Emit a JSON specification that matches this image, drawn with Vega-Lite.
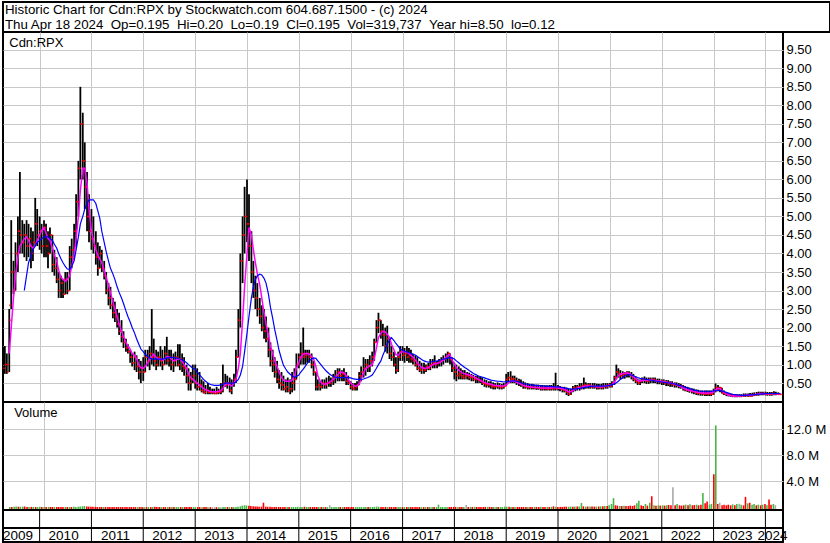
{
"$schema":"https://vega.github.io/schema/vega-lite/v6.json",
"padding":{"left":1,"top":1,"right":0,"bottom":0},
"background":"white",
"bounds":"flush",
"spacing":0,
"config":{"font":"Liberation Sans","view":{"stroke":"black","strokeWidth":2},"text":{"font":"Liberation Sans","fontSize":13,"color":"black"},"axis":{"labelFont":"Liberation Sans","labelFontSize":13,"labelColor":"black","gridColor":"#c8c8c8","gridWidth":1,"gridOpacity":1,"domain":false,"ticks":false,"title":null,"labelOverlap":false,"labelBound":false}},
"resolve":{"scale":{"x":"independent","y":"independent"}},
"datasets":{
"yb":[{"d":"2010-01-01","t":"2010"},{"d":"2011-01-01","t":"2011"},{"d":"2012-01-01","t":"2012"},{"d":"2013-01-01","t":"2013"},{"d":"2014-01-01","t":"2014"},{"d":"2015-01-01","t":"2015"},{"d":"2016-01-01","t":"2016"},{"d":"2017-01-01","t":"2017"},{"d":"2018-01-01","t":"2018"},{"d":"2019-01-01","t":"2019"},{"d":"2020-01-01","t":"2020"},{"d":"2021-01-01","t":"2021"},{"d":"2022-01-01","t":"2022"},{"d":"2023-01-01","t":"2023"},{"d":"2024-01-01","t":"2024"}],
"p":[
{"d":"2009-05-01","o":0.9,"h":1.5,"l":0.75,"c":1.0,"m":null,"a":null,"v":0.05},
{"d":"2009-05-15","o":1.0,"h":1.3,"l":0.75,"c":0.8,"m":null,"a":null,"v":0.04},
{"d":"2009-06-01","o":1.0,"h":2.5,"l":0.8,"c":2.2,"m":1.3,"a":null,"v":0.08},
{"d":"2009-06-15","o":2.6,"h":4.9,"l":2.5,"c":3.5,"m":2.0,"a":null,"v":0.12},
{"d":"2009-07-01","o":3.5,"h":3.8,"l":2.9,"c":3.0,"m":2.8,"a":null,"v":0.07},
{"d":"2009-07-15","o":3.0,"h":4.3,"l":3.0,"c":4.0,"m":3.4,"a":null,"v":0.08},
{"d":"2009-08-01","o":4.0,"h":5.0,"l":3.5,"c":4.6,"m":3.9,"a":null,"v":0.1},
{"d":"2009-08-15","o":4.6,"h":6.2,"l":4.0,"c":4.5,"m":4.2,"a":null,"v":0.12},
{"d":"2009-09-01","o":4.5,"h":4.9,"l":4.0,"c":4.3,"m":4.3,"a":null,"v":0.06},
{"d":"2009-09-15","o":4.3,"h":4.8,"l":3.9,"c":4.5,"m":4.4,"a":3.0,"v":0.05},
{"d":"2009-10-01","o":4.5,"h":4.9,"l":3.8,"c":4.2,"m":4.45,"a":3.4,"v":0.06},
{"d":"2009-10-15","o":4.2,"h":4.8,"l":3.9,"c":4.4,"m":4.35,"a":3.75,"v":0.05},
{"d":"2009-11-01","o":4.4,"h":4.7,"l":3.6,"c":4.0,"m":4.2,"a":3.95,"v":0.05},
{"d":"2009-11-15","o":4.0,"h":4.6,"l":3.8,"c":4.3,"m":4.15,"a":4.1,"v":0.04},
{"d":"2009-12-01","o":4.3,"h":5.5,"l":4.2,"c":4.8,"m":4.2,"a":4.2,"v":0.08},
{"d":"2009-12-15","o":4.8,"h":5.2,"l":4.2,"c":4.5,"m":4.35,"a":4.3,"v":0.05},
{"d":"2010-01-01","o":4.5,"h":5.0,"l":4.1,"c":4.6,"m":4.5,"a":4.35,"v":0.06},
{"d":"2010-01-15","o":4.6,"h":4.8,"l":4.0,"c":4.2,"m":4.62,"a":4.4,"v":0.05},
{"d":"2010-02-01","o":4.2,"h":4.9,"l":3.9,"c":4.7,"m":4.7,"a":4.45,"v":0.06},
{"d":"2010-02-15","o":4.7,"h":4.8,"l":3.9,"c":4.2,"m":4.55,"a":4.45,"v":0.05},
{"d":"2010-03-01","o":4.2,"h":4.6,"l":3.6,"c":4.0,"m":4.4,"a":4.45,"v":0.05},
{"d":"2010-03-15","o":4.0,"h":4.7,"l":4.0,"c":4.5,"m":4.35,"a":4.4,"v":0.04},
{"d":"2010-04-01","o":4.5,"h":4.5,"l":3.5,"c":3.7,"m":4.15,"a":4.35,"v":0.05},
{"d":"2010-04-15","o":3.7,"h":4.1,"l":3.4,"c":3.6,"m":3.95,"a":4.25,"v":0.04},
{"d":"2010-05-01","o":3.6,"h":3.9,"l":3.2,"c":3.3,"m":3.8,"a":4.15,"v":0.05},
{"d":"2010-05-15","o":3.3,"h":3.5,"l":2.8,"c":3.0,"m":3.55,"a":4.0,"v":0.06},
{"d":"2010-06-01","o":3.0,"h":3.4,"l":2.8,"c":3.2,"m":3.35,"a":3.85,"v":0.04},
{"d":"2010-06-15","o":3.2,"h":3.3,"l":2.8,"c":2.9,"m":3.3,"a":3.75,"v":0.04},
{"d":"2010-07-01","o":2.9,"h":3.5,"l":2.9,"c":3.3,"m":3.25,"a":3.65,"v":0.05},
{"d":"2010-07-15","o":3.3,"h":3.5,"l":2.9,"c":3.0,"m":3.3,"a":3.58,"v":0.04},
{"d":"2010-08-01","o":3.0,"h":4.2,"l":3.0,"c":3.9,"m":3.4,"a":3.57,"v":0.07},
{"d":"2010-08-15","o":3.9,"h":4.4,"l":3.6,"c":4.1,"m":3.65,"a":3.65,"v":0.06},
{"d":"2010-09-01","o":4.1,"h":4.8,"l":3.9,"c":4.6,"m":3.95,"a":3.8,"v":0.08},
{"d":"2010-09-15","o":4.6,"h":5.6,"l":4.2,"c":5.4,"m":4.4,"a":4.1,"v":0.1},
{"d":"2010-10-01","o":5.4,"h":6.5,"l":5.0,"c":6.3,"m":5.0,"a":4.45,"v":0.14},
{"d":"2010-10-15","o":6.3,"h":8.5,"l":6.0,"c":7.5,"m":5.7,"a":4.8,"v":0.2},
{"d":"2010-11-01","o":7.5,"h":7.8,"l":6.0,"c":6.5,"m":6.3,"a":5.0,"v":0.12},
{"d":"2010-11-15","o":6.5,"h":7.0,"l":5.2,"c":5.8,"m":6.3,"a":5.2,"v":0.1},
{"d":"2010-12-01","o":5.8,"h":6.2,"l":4.6,"c":5.0,"m":5.9,"a":5.35,"v":0.08},
{"d":"2010-12-15","o":5.0,"h":5.6,"l":4.3,"c":4.6,"m":5.2,"a":5.45,"v":0.07},
{"d":"2011-01-01","o":4.6,"h":5.2,"l":4.1,"c":4.4,"m":4.6,"a":5.45,"v":0.06},
{"d":"2011-01-15","o":4.4,"h":5.0,"l":4.0,"c":4.2,"m":4.35,"a":5.45,"v":0.05},
{"d":"2011-02-01","o":4.2,"h":4.6,"l":3.7,"c":3.9,"m":4.1,"a":5.35,"v":0.05},
{"d":"2011-02-15","o":3.9,"h":4.3,"l":3.4,"c":3.6,"m":3.95,"a":5.15,"v":0.05},
{"d":"2011-03-01","o":3.6,"h":4.2,"l":3.6,"c":4.0,"m":3.85,"a":4.95,"v":0.04},
{"d":"2011-03-15","o":4.0,"h":4.1,"l":3.5,"c":3.6,"m":3.75,"a":4.6,"v":0.04},
{"d":"2011-04-01","o":3.6,"h":3.8,"l":3.3,"c":3.4,"m":3.55,"a":4.3,"v":0.04},
{"d":"2011-04-15","o":3.4,"h":3.5,"l":2.9,"c":3.0,"m":3.35,"a":4.05,"v":0.05},
{"d":"2011-05-01","o":3.0,"h":3.2,"l":2.6,"c":2.8,"m":3.15,"a":3.8,"v":0.05},
{"d":"2011-05-15","o":2.8,"h":3.1,"l":2.5,"c":2.6,"m":2.95,"a":3.6,"v":0.04},
{"d":"2011-06-01","o":2.6,"h":2.8,"l":2.25,"c":2.4,"m":2.7,"a":3.45,"v":0.04},
{"d":"2011-06-15","o":2.4,"h":2.7,"l":2.15,"c":2.3,"m":2.5,"a":3.3,"v":0.04},
{"d":"2011-07-01","o":2.3,"h":2.5,"l":2.0,"c":2.1,"m":2.3,"a":3.1,"v":0.03},
{"d":"2011-07-15","o":2.1,"h":2.4,"l":1.8,"c":1.9,"m":2.1,"a":2.95,"v":0.04},
{"d":"2011-08-01","o":1.9,"h":2.2,"l":1.6,"c":1.75,"m":1.9,"a":2.8,"v":0.04},
{"d":"2011-08-15","o":1.75,"h":1.9,"l":1.45,"c":1.6,"m":1.75,"a":2.65,"v":0.03},
{"d":"2011-09-01","o":1.6,"h":1.7,"l":1.35,"c":1.45,"m":1.6,"a":2.45,"v":0.03},
{"d":"2011-09-15","o":1.45,"h":1.55,"l":1.3,"c":1.35,"m":1.5,"a":2.3,"v":0.03},
{"d":"2011-10-01","o":1.35,"h":1.4,"l":1.05,"c":1.2,"m":1.42,"a":2.15,"v":0.04},
{"d":"2011-10-15","o":1.2,"h":1.3,"l":0.95,"c":1.05,"m":1.3,"a":2.0,"v":0.03},
{"d":"2011-11-01","o":1.05,"h":1.35,"l":0.85,"c":1.2,"m":1.25,"a":1.85,"v":0.04},
{"d":"2011-11-15","o":1.2,"h":1.25,"l":0.8,"c":0.95,"m":1.15,"a":1.7,"v":0.03},
{"d":"2011-12-01","o":0.95,"h":1.15,"l":0.6,"c":0.8,"m":1.0,"a":1.55,"v":0.04},
{"d":"2011-12-15","o":0.8,"h":1.1,"l":0.5,"c":0.9,"m":0.92,"a":1.42,"v":0.04},
{"d":"2012-01-01","o":0.9,"h":1.2,"l":0.56,"c":0.8,"m":0.9,"a":1.35,"v":0.03},
{"d":"2012-01-15","o":0.8,"h":1.4,"l":0.8,"c":1.2,"m":0.95,"a":1.28,"v":0.04},
{"d":"2012-02-01","o":1.2,"h":1.4,"l":0.95,"c":1.1,"m":1.05,"a":1.22,"v":0.03},
{"d":"2012-02-15","o":1.1,"h":1.5,"l":0.85,"c":1.3,"m":1.15,"a":1.18,"v":0.04},
{"d":"2012-03-01","o":1.3,"h":2.5,"l":1.0,"c":1.2,"m":1.22,"a":1.15,"v":0.08},
{"d":"2012-03-15","o":1.2,"h":1.7,"l":0.95,"c":1.1,"m":1.28,"a":1.15,"v":0.04},
{"d":"2012-04-01","o":1.1,"h":1.4,"l":0.85,"c":1.0,"m":1.2,"a":1.15,"v":0.03},
{"d":"2012-04-15","o":1.0,"h":1.35,"l":0.95,"c":1.2,"m":1.15,"a":1.15,"v":0.03},
{"d":"2012-05-01","o":1.2,"h":1.5,"l":0.95,"c":1.1,"m":1.15,"a":1.15,"v":0.03},
{"d":"2012-05-15","o":1.1,"h":1.4,"l":0.85,"c":1.0,"m":1.12,"a":1.15,"v":0.03},
{"d":"2012-06-01","o":1.0,"h":1.5,"l":1.0,"c":1.3,"m":1.15,"a":1.16,"v":0.04},
{"d":"2012-06-15","o":1.3,"h":1.75,"l":1.0,"c":1.1,"m":1.22,"a":1.18,"v":0.05},
{"d":"2012-07-01","o":1.1,"h":1.4,"l":0.95,"c":1.2,"m":1.2,"a":1.19,"v":0.03},
{"d":"2012-07-15","o":1.2,"h":1.4,"l":0.85,"c":1.0,"m":1.15,"a":1.2,"v":0.03},
{"d":"2012-08-01","o":1.0,"h":1.3,"l":0.8,"c":1.1,"m":1.1,"a":1.19,"v":0.03},
{"d":"2012-08-15","o":1.1,"h":1.35,"l":0.95,"c":1.2,"m":1.12,"a":1.18,"v":0.03},
{"d":"2012-09-01","o":1.2,"h":1.55,"l":0.95,"c":1.0,"m":1.15,"a":1.17,"v":0.04},
{"d":"2012-09-15","o":1.0,"h":1.55,"l":0.85,"c":1.15,"m":1.15,"a":1.15,"v":0.04},
{"d":"2012-10-01","o":1.15,"h":1.3,"l":0.8,"c":0.95,"m":1.08,"a":1.13,"v":0.03},
{"d":"2012-10-15","o":0.95,"h":1.2,"l":0.7,"c":0.9,"m":1.0,"a":1.1,"v":0.03},
{"d":"2012-11-01","o":0.9,"h":1.0,"l":0.5,"c":0.7,"m":0.9,"a":1.05,"v":0.04},
{"d":"2012-11-15","o":0.7,"h":0.9,"l":0.3,"c":0.5,"m":0.75,"a":1.0,"v":0.04},
{"d":"2012-12-01","o":0.5,"h":0.8,"l":0.3,"c":0.6,"m":0.65,"a":0.95,"v":0.03},
{"d":"2012-12-15","o":0.6,"h":1.0,"l":0.5,"c":0.7,"m":0.6,"a":0.9,"v":0.03},
{"d":"2013-01-01","o":0.7,"h":1.0,"l":0.35,"c":0.5,"m":0.55,"a":0.88,"v":0.03},
{"d":"2013-01-15","o":0.5,"h":0.9,"l":0.3,"c":0.4,"m":0.5,"a":0.8,"v":0.03},
{"d":"2013-02-01","o":0.4,"h":0.8,"l":0.3,"c":0.45,"m":0.45,"a":0.72,"v":0.02},
{"d":"2013-02-15","o":0.45,"h":0.6,"l":0.25,"c":0.3,"m":0.4,"a":0.66,"v":0.03},
{"d":"2013-03-01","o":0.3,"h":0.55,"l":0.22,"c":0.25,"m":0.36,"a":0.6,"v":0.03},
{"d":"2013-03-15","o":0.25,"h":0.45,"l":0.2,"c":0.3,"m":0.32,"a":0.55,"v":0.02},
{"d":"2013-04-01","o":0.3,"h":0.5,"l":0.2,"c":0.25,"m":0.3,"a":0.5,"v":0.02},
{"d":"2013-04-15","o":0.25,"h":0.4,"l":0.2,"c":0.25,"m":0.28,"a":0.47,"v":0.02},
{"d":"2013-05-01","o":0.25,"h":0.35,"l":0.2,"c":0.25,"m":0.27,"a":0.45,"v":0.02},
{"d":"2013-05-15","o":0.25,"h":0.35,"l":0.2,"c":0.22,"m":0.27,"a":0.44,"v":0.02},
{"d":"2013-06-01","o":0.22,"h":0.4,"l":0.2,"c":0.25,"m":0.27,"a":0.44,"v":0.02},
{"d":"2013-06-15","o":0.25,"h":0.35,"l":0.2,"c":0.25,"m":0.28,"a":0.44,"v":0.02},
{"d":"2013-07-01","o":0.25,"h":0.5,"l":0.2,"c":0.3,"m":0.3,"a":0.45,"v":0.03},
{"d":"2013-07-15","o":0.3,"h":1.0,"l":0.25,"c":0.5,"m":0.36,"a":0.47,"v":0.06},
{"d":"2013-08-01","o":0.5,"h":0.75,"l":0.4,"c":0.45,"m":0.45,"a":0.5,"v":0.03},
{"d":"2013-08-15","o":0.45,"h":0.7,"l":0.35,"c":0.5,"m":0.5,"a":0.5,"v":0.03},
{"d":"2013-09-01","o":0.5,"h":0.65,"l":0.25,"c":0.3,"m":0.45,"a":0.5,"v":0.03},
{"d":"2013-09-15","o":0.3,"h":0.6,"l":0.2,"c":0.5,"m":0.42,"a":0.5,"v":0.03},
{"d":"2013-10-01","o":0.5,"h":0.75,"l":0.4,"c":0.6,"m":0.5,"a":0.5,"v":0.04},
{"d":"2013-10-15","o":0.6,"h":1.4,"l":0.5,"c":1.2,"m":0.6,"a":0.53,"v":0.08},
{"d":"2013-11-01","o":1.2,"h":2.5,"l":1.2,"c":2.2,"m":0.9,"a":0.6,"v":0.15},
{"d":"2013-11-15","o":2.2,"h":4.0,"l":2.0,"c":3.8,"m":1.3,"a":0.72,"v":0.25},
{"d":"2013-12-01","o":3.8,"h":5.0,"l":3.2,"c":4.5,"m":2.2,"a":0.95,"v":0.3},
{"d":"2013-12-15","o":4.5,"h":5.8,"l":4.0,"c":5.0,"m":3.1,"a":1.35,"v":0.28},
{"d":"2014-01-01","o":5.0,"h":6.0,"l":4.3,"c":4.8,"m":4.0,"a":1.85,"v":0.25},
{"d":"2014-01-15","o":4.8,"h":5.6,"l":3.8,"c":4.2,"m":4.7,"a":2.3,"v":0.2},
{"d":"2014-02-01","o":4.2,"h":4.6,"l":3.2,"c":3.5,"m":4.5,"a":2.8,"v":0.15},
{"d":"2014-02-15","o":3.5,"h":3.8,"l":2.8,"c":3.0,"m":4.1,"a":3.1,"v":0.12},
{"d":"2014-03-01","o":3.0,"h":3.4,"l":2.5,"c":2.8,"m":3.75,"a":3.3,"v":0.1},
{"d":"2014-03-15","o":2.8,"h":3.2,"l":2.3,"c":2.5,"m":3.45,"a":3.4,"v":0.08},
{"d":"2014-04-01","o":2.5,"h":2.8,"l":2.1,"c":2.3,"m":3.15,"a":3.44,"v":0.1},
{"d":"2014-04-15","o":2.3,"h":2.6,"l":1.9,"c":2.0,"m":2.8,"a":3.42,"v":0.7},
{"d":"2014-05-01","o":2.0,"h":2.5,"l":1.7,"c":1.9,"m":2.4,"a":3.33,"v":0.1},
{"d":"2014-05-15","o":1.9,"h":2.3,"l":1.6,"c":1.7,"m":2.1,"a":3.2,"v":0.08},
{"d":"2014-06-01","o":1.7,"h":2.0,"l":1.2,"c":1.4,"m":1.8,"a":2.9,"v":0.07},
{"d":"2014-06-15","o":1.4,"h":1.6,"l":0.95,"c":1.1,"m":1.5,"a":2.55,"v":0.06},
{"d":"2014-07-01","o":1.1,"h":1.4,"l":0.8,"c":1.0,"m":1.3,"a":2.25,"v":0.05},
{"d":"2014-07-15","o":1.0,"h":1.2,"l":0.65,"c":0.8,"m":1.1,"a":1.95,"v":0.05},
{"d":"2014-08-01","o":0.8,"h":1.1,"l":0.5,"c":0.6,"m":0.95,"a":1.65,"v":0.05},
{"d":"2014-08-15","o":0.6,"h":0.85,"l":0.35,"c":0.5,"m":0.8,"a":1.38,"v":0.04},
{"d":"2014-09-01","o":0.5,"h":0.8,"l":0.3,"c":0.45,"m":0.65,"a":1.15,"v":0.04},
{"d":"2014-09-15","o":0.45,"h":0.7,"l":0.3,"c":0.35,"m":0.58,"a":0.98,"v":0.03},
{"d":"2014-10-01","o":0.35,"h":0.6,"l":0.25,"c":0.4,"m":0.55,"a":0.88,"v":0.03},
{"d":"2014-10-15","o":0.4,"h":0.65,"l":0.25,"c":0.3,"m":0.55,"a":0.8,"v":0.03},
{"d":"2014-11-01","o":0.3,"h":0.6,"l":0.2,"c":0.35,"m":0.55,"a":0.74,"v":0.03},
{"d":"2014-11-15","o":0.35,"h":0.8,"l":0.25,"c":0.5,"m":0.58,"a":0.7,"v":0.04},
{"d":"2014-12-01","o":0.5,"h":0.9,"l":0.3,"c":0.6,"m":0.7,"a":0.66,"v":0.04},
{"d":"2014-12-15","o":0.6,"h":1.3,"l":0.6,"c":1.0,"m":0.9,"a":0.68,"v":0.06},
{"d":"2015-01-01","o":1.0,"h":1.3,"l":0.9,"c":1.2,"m":1.05,"a":0.72,"v":0.05},
{"d":"2015-01-15","o":1.2,"h":1.6,"l":1.0,"c":1.3,"m":1.2,"a":0.8,"v":0.05},
{"d":"2015-02-01","o":1.3,"h":2.0,"l":1.0,"c":1.2,"m":1.28,"a":0.88,"v":0.08},
{"d":"2015-02-15","o":1.2,"h":1.4,"l":1.0,"c":1.25,"m":1.3,"a":0.95,"v":0.04},
{"d":"2015-03-01","o":1.25,"h":1.4,"l":1.05,"c":1.3,"m":1.3,"a":1.03,"v":0.04},
{"d":"2015-03-15","o":1.3,"h":1.4,"l":1.05,"c":1.2,"m":1.28,"a":1.1,"v":0.04},
{"d":"2015-04-01","o":1.2,"h":1.3,"l":0.9,"c":1.0,"m":1.22,"a":1.15,"v":0.04},
{"d":"2015-04-15","o":1.0,"h":1.1,"l":0.7,"c":0.8,"m":1.15,"a":1.18,"v":0.04},
{"d":"2015-05-01","o":0.8,"h":0.8,"l":0.3,"c":0.4,"m":0.95,"a":1.17,"v":0.06},
{"d":"2015-05-15","o":0.4,"h":0.6,"l":0.3,"c":0.45,"m":0.7,"a":1.1,"v":0.04},
{"d":"2015-06-01","o":0.45,"h":0.55,"l":0.3,"c":0.4,"m":0.55,"a":1.02,"v":0.03},
{"d":"2015-06-15","o":0.4,"h":0.6,"l":0.35,"c":0.5,"m":0.48,"a":0.95,"v":0.03},
{"d":"2015-07-01","o":0.5,"h":0.6,"l":0.35,"c":0.45,"m":0.47,"a":0.88,"v":0.03},
{"d":"2015-07-15","o":0.45,"h":0.65,"l":0.35,"c":0.5,"m":0.48,"a":0.82,"v":0.03},
{"d":"2015-08-01","o":0.5,"h":0.7,"l":0.4,"c":0.5,"m":0.52,"a":0.76,"v":0.3},
{"d":"2015-08-15","o":0.5,"h":0.65,"l":0.4,"c":0.55,"m":0.55,"a":0.72,"v":0.04},
{"d":"2015-09-01","o":0.55,"h":0.75,"l":0.45,"c":0.65,"m":0.6,"a":0.68,"v":0.04},
{"d":"2015-09-15","o":0.65,"h":0.85,"l":0.5,"c":0.7,"m":0.65,"a":0.66,"v":0.05},
{"d":"2015-10-01","o":0.7,"h":0.9,"l":0.55,"c":0.8,"m":0.72,"a":0.65,"v":0.05},
{"d":"2015-10-15","o":0.8,"h":0.9,"l":0.55,"c":0.7,"m":0.78,"a":0.65,"v":0.04},
{"d":"2015-11-01","o":0.7,"h":0.85,"l":0.55,"c":0.75,"m":0.8,"a":0.65,"v":0.04},
{"d":"2015-11-15","o":0.75,"h":0.9,"l":0.55,"c":0.65,"m":0.78,"a":0.65,"v":0.04},
{"d":"2015-12-01","o":0.65,"h":0.8,"l":0.45,"c":0.55,"m":0.7,"a":0.65,"v":0.03},
{"d":"2015-12-15","o":0.55,"h":0.7,"l":0.45,"c":0.5,"m":0.6,"a":0.65,"v":0.03},
{"d":"2016-01-01","o":0.5,"h":0.55,"l":0.33,"c":0.4,"m":0.5,"a":0.64,"v":0.03},
{"d":"2016-01-15","o":0.4,"h":0.5,"l":0.3,"c":0.35,"m":0.45,"a":0.62,"v":0.03},
{"d":"2016-02-01","o":0.35,"h":0.5,"l":0.3,"c":0.4,"m":0.42,"a":0.61,"v":0.03},
{"d":"2016-02-15","o":0.4,"h":0.55,"l":0.3,"c":0.45,"m":0.42,"a":0.6,"v":0.03},
{"d":"2016-03-01","o":0.45,"h":0.8,"l":0.45,"c":0.7,"m":0.48,"a":0.6,"v":0.05},
{"d":"2016-03-15","o":0.7,"h":0.95,"l":0.55,"c":0.8,"m":0.6,"a":0.6,"v":0.05},
{"d":"2016-04-01","o":0.8,"h":1.2,"l":0.65,"c":0.9,"m":0.78,"a":0.61,"v":0.06},
{"d":"2016-04-15","o":0.9,"h":1.15,"l":0.7,"c":1.0,"m":0.88,"a":0.63,"v":0.05},
{"d":"2016-05-01","o":1.0,"h":1.15,"l":0.8,"c":0.95,"m":0.93,"a":0.65,"v":0.04},
{"d":"2016-05-15","o":0.95,"h":1.25,"l":0.8,"c":1.1,"m":0.97,"a":0.68,"v":0.05},
{"d":"2016-06-01","o":1.1,"h":1.35,"l":0.95,"c":1.2,"m":1.0,"a":0.72,"v":0.05},
{"d":"2016-06-15","o":1.2,"h":1.7,"l":1.1,"c":1.6,"m":1.15,"a":0.8,"v":0.07},
{"d":"2016-07-01","o":1.6,"h":2.2,"l":1.6,"c":2.0,"m":1.45,"a":0.9,"v":0.1},
{"d":"2016-07-15","o":2.0,"h":2.4,"l":1.85,"c":2.2,"m":1.73,"a":1.0,"v":0.08},
{"d":"2016-08-01","o":2.2,"h":2.2,"l":1.7,"c":1.9,"m":1.85,"a":1.1,"v":0.06},
{"d":"2016-08-15","o":1.9,"h":2.1,"l":1.5,"c":1.8,"m":1.9,"a":1.25,"v":0.05},
{"d":"2016-09-01","o":1.8,"h":2.0,"l":1.35,"c":1.5,"m":1.88,"a":1.4,"v":0.05},
{"d":"2016-09-15","o":1.5,"h":2.05,"l":1.3,"c":1.7,"m":1.82,"a":1.55,"v":0.05},
{"d":"2016-10-01","o":1.7,"h":1.75,"l":1.15,"c":1.3,"m":1.73,"a":1.67,"v":0.05},
{"d":"2016-10-15","o":1.3,"h":1.5,"l":1.1,"c":1.2,"m":1.55,"a":1.73,"v":0.04},
{"d":"2016-11-01","o":1.2,"h":1.35,"l":0.95,"c":1.0,"m":1.4,"a":1.65,"v":0.04},
{"d":"2016-11-15","o":1.0,"h":1.2,"l":0.75,"c":0.85,"m":1.27,"a":1.57,"v":0.05},
{"d":"2016-12-01","o":0.85,"h":1.35,"l":0.8,"c":1.2,"m":1.25,"a":1.5,"v":0.05},
{"d":"2016-12-15","o":1.2,"h":1.5,"l":1.1,"c":1.35,"m":1.32,"a":1.42,"v":0.05},
{"d":"2017-01-01","o":1.35,"h":1.5,"l":1.1,"c":1.25,"m":1.35,"a":1.38,"v":0.04},
{"d":"2017-01-15","o":1.25,"h":1.45,"l":1.05,"c":1.3,"m":1.35,"a":1.36,"v":0.04},
{"d":"2017-02-01","o":1.3,"h":1.5,"l":1.1,"c":1.2,"m":1.33,"a":1.34,"v":0.04},
{"d":"2017-02-15","o":1.2,"h":1.45,"l":1.05,"c":1.25,"m":1.3,"a":1.32,"v":0.04},
{"d":"2017-03-01","o":1.25,"h":1.4,"l":1.05,"c":1.15,"m":1.25,"a":1.3,"v":0.03},
{"d":"2017-03-15","o":1.15,"h":1.3,"l":1.0,"c":1.1,"m":1.2,"a":1.28,"v":0.03},
{"d":"2017-04-01","o":1.1,"h":1.25,"l":0.95,"c":1.0,"m":1.12,"a":1.26,"v":0.03},
{"d":"2017-04-15","o":1.0,"h":1.2,"l":0.85,"c":0.9,"m":1.05,"a":1.22,"v":0.04},
{"d":"2017-05-01","o":0.9,"h":1.1,"l":0.8,"c":0.85,"m":0.98,"a":1.18,"v":0.03},
{"d":"2017-05-15","o":0.85,"h":1.05,"l":0.75,"c":0.9,"m":0.92,"a":1.14,"v":0.03},
{"d":"2017-06-01","o":0.9,"h":1.05,"l":0.75,"c":0.85,"m":0.9,"a":1.1,"v":0.03},
{"d":"2017-06-15","o":0.85,"h":1.0,"l":0.8,"c":0.95,"m":0.9,"a":1.08,"v":0.03},
{"d":"2017-07-01","o":0.95,"h":1.05,"l":0.85,"c":0.9,"m":0.92,"a":1.07,"v":0.03},
{"d":"2017-07-15","o":0.9,"h":1.15,"l":0.85,"c":1.0,"m":0.95,"a":1.07,"v":0.04},
{"d":"2017-08-01","o":1.0,"h":1.15,"l":0.9,"c":1.05,"m":1.0,"a":1.08,"v":0.04},
{"d":"2017-08-15","o":1.05,"h":1.25,"l":0.9,"c":1.0,"m":1.02,"a":1.09,"v":0.05},
{"d":"2017-09-01","o":1.0,"h":1.1,"l":0.9,"c":1.05,"m":1.03,"a":1.1,"v":0.04},
{"d":"2017-09-15","o":1.05,"h":1.15,"l":0.95,"c":1.1,"m":1.05,"a":1.11,"v":0.4},
{"d":"2017-10-01","o":1.1,"h":1.2,"l":0.95,"c":1.12,"m":1.08,"a":1.13,"v":0.05},
{"d":"2017-10-15","o":1.12,"h":1.25,"l":1.0,"c":1.15,"m":1.12,"a":1.15,"v":0.05},
{"d":"2017-11-01","o":1.15,"h":1.3,"l":1.05,"c":1.2,"m":1.18,"a":1.16,"v":0.05},
{"d":"2017-11-15","o":1.2,"h":1.35,"l":1.05,"c":1.3,"m":1.25,"a":1.18,"v":0.06},
{"d":"2017-12-01","o":1.3,"h":1.3,"l":1.0,"c":1.15,"m":1.27,"a":1.19,"v":0.05},
{"d":"2017-12-15","o":1.15,"h":1.2,"l":0.8,"c":0.9,"m":1.12,"a":1.18,"v":0.05},
{"d":"2018-01-01","o":0.9,"h":1.05,"l":0.6,"c":0.8,"m":1.02,"a":1.15,"v":0.06},
{"d":"2018-01-15","o":0.8,"h":1.0,"l":0.55,"c":0.7,"m":0.92,"a":1.1,"v":0.06},
{"d":"2018-02-01","o":0.7,"h":0.95,"l":0.6,"c":0.75,"m":0.85,"a":1.05,"v":0.05},
{"d":"2018-02-15","o":0.75,"h":0.9,"l":0.6,"c":0.7,"m":0.8,"a":1.0,"v":0.05},
{"d":"2018-03-01","o":0.7,"h":0.85,"l":0.6,"c":0.65,"m":0.77,"a":0.96,"v":0.05},
{"d":"2018-03-15","o":0.65,"h":0.85,"l":0.6,"c":0.7,"m":0.75,"a":0.92,"v":0.05},
{"d":"2018-04-01","o":0.7,"h":0.8,"l":0.6,"c":0.7,"m":0.74,"a":0.88,"v":0.35},
{"d":"2018-04-15","o":0.7,"h":0.78,"l":0.58,"c":0.65,"m":0.72,"a":0.84,"v":0.05},
{"d":"2018-05-01","o":0.65,"h":0.75,"l":0.55,"c":0.66,"m":0.7,"a":0.8,"v":0.05},
{"d":"2018-05-15","o":0.66,"h":0.72,"l":0.55,"c":0.6,"m":0.67,"a":0.76,"v":0.05},
{"d":"2018-06-01","o":0.6,"h":0.7,"l":0.5,"c":0.62,"m":0.64,"a":0.73,"v":0.06},
{"d":"2018-06-15","o":0.62,"h":0.7,"l":0.5,"c":0.58,"m":0.61,"a":0.7,"v":0.05},
{"d":"2018-07-01","o":0.58,"h":0.68,"l":0.5,"c":0.55,"m":0.58,"a":0.68,"v":0.05},
{"d":"2018-07-15","o":0.55,"h":0.65,"l":0.45,"c":0.5,"m":0.55,"a":0.66,"v":0.05},
{"d":"2018-08-01","o":0.5,"h":0.6,"l":0.4,"c":0.48,"m":0.52,"a":0.64,"v":0.05},
{"d":"2018-08-15","o":0.48,"h":0.58,"l":0.38,"c":0.45,"m":0.5,"a":0.62,"v":0.05},
{"d":"2018-09-01","o":0.45,"h":0.55,"l":0.38,"c":0.46,"m":0.48,"a":0.6,"v":0.06},
{"d":"2018-09-15","o":0.46,"h":0.55,"l":0.35,"c":0.42,"m":0.47,"a":0.58,"v":0.06},
{"d":"2018-10-01","o":0.42,"h":0.52,"l":0.33,"c":0.4,"m":0.45,"a":0.57,"v":0.06},
{"d":"2018-10-15","o":0.4,"h":0.5,"l":0.33,"c":0.41,"m":0.44,"a":0.56,"v":0.05},
{"d":"2018-11-01","o":0.41,"h":0.52,"l":0.35,"c":0.42,"m":0.43,"a":0.55,"v":0.06},
{"d":"2018-11-15","o":0.42,"h":0.5,"l":0.33,"c":0.38,"m":0.43,"a":0.55,"v":0.06},
{"d":"2018-12-01","o":0.38,"h":0.48,"l":0.33,"c":0.4,"m":0.42,"a":0.54,"v":0.05},
{"d":"2018-12-15","o":0.4,"h":0.5,"l":0.35,"c":0.42,"m":0.43,"a":0.53,"v":0.05},
{"d":"2019-01-01","o":0.42,"h":0.75,"l":0.42,"c":0.6,"m":0.45,"a":0.54,"v":0.1},
{"d":"2019-01-15","o":0.6,"h":0.8,"l":0.5,"c":0.65,"m":0.5,"a":0.55,"v":0.08},
{"d":"2019-02-01","o":0.65,"h":0.82,"l":0.5,"c":0.6,"m":0.55,"a":0.55,"v":0.08},
{"d":"2019-02-15","o":0.6,"h":0.7,"l":0.5,"c":0.62,"m":0.56,"a":0.56,"v":0.06},
{"d":"2019-03-01","o":0.62,"h":0.7,"l":0.5,"c":0.55,"m":0.55,"a":0.56,"v":0.06},
{"d":"2019-03-15","o":0.55,"h":0.65,"l":0.45,"c":0.56,"m":0.52,"a":0.55,"v":0.05},
{"d":"2019-04-01","o":0.56,"h":0.62,"l":0.42,"c":0.5,"m":0.5,"a":0.53,"v":0.05},
{"d":"2019-04-15","o":0.5,"h":0.6,"l":0.4,"c":0.45,"m":0.47,"a":0.51,"v":0.05},
{"d":"2019-05-01","o":0.45,"h":0.55,"l":0.35,"c":0.42,"m":0.44,"a":0.49,"v":0.05},
{"d":"2019-05-15","o":0.42,"h":0.52,"l":0.35,"c":0.4,"m":0.42,"a":0.48,"v":0.05},
{"d":"2019-06-01","o":0.4,"h":0.5,"l":0.33,"c":0.38,"m":0.41,"a":0.47,"v":0.06},
{"d":"2019-06-15","o":0.38,"h":0.48,"l":0.33,"c":0.4,"m":0.4,"a":0.46,"v":0.06},
{"d":"2019-07-01","o":0.4,"h":0.48,"l":0.33,"c":0.38,"m":0.39,"a":0.45,"v":0.05},
{"d":"2019-07-15","o":0.38,"h":0.47,"l":0.33,"c":0.37,"m":0.39,"a":0.44,"v":0.05},
{"d":"2019-08-01","o":0.37,"h":0.46,"l":0.32,"c":0.38,"m":0.38,"a":0.44,"v":0.06},
{"d":"2019-08-15","o":0.38,"h":0.46,"l":0.32,"c":0.36,"m":0.38,"a":0.43,"v":0.05},
{"d":"2019-09-01","o":0.36,"h":0.45,"l":0.3,"c":0.35,"m":0.37,"a":0.43,"v":0.05},
{"d":"2019-09-15","o":0.35,"h":0.45,"l":0.3,"c":0.36,"m":0.37,"a":0.42,"v":0.06},
{"d":"2019-10-01","o":0.36,"h":0.44,"l":0.3,"c":0.35,"m":0.37,"a":0.42,"v":0.05},
{"d":"2019-10-15","o":0.35,"h":0.44,"l":0.3,"c":0.34,"m":0.37,"a":0.41,"v":0.05},
{"d":"2019-11-01","o":0.34,"h":0.45,"l":0.3,"c":0.36,"m":0.37,"a":0.41,"v":0.06},
{"d":"2019-11-15","o":0.36,"h":0.45,"l":0.3,"c":0.35,"m":0.37,"a":0.41,"v":0.05},
{"d":"2019-12-01","o":0.35,"h":0.5,"l":0.3,"c":0.38,"m":0.38,"a":0.4,"v":0.08},
{"d":"2019-12-15","o":0.38,"h":0.78,"l":0.3,"c":0.35,"m":0.38,"a":0.4,"v":0.15},
{"d":"2020-01-01","o":0.35,"h":0.45,"l":0.3,"c":0.38,"m":0.37,"a":0.4,"v":0.08},
{"d":"2020-01-15","o":0.38,"h":0.42,"l":0.28,"c":0.35,"m":0.36,"a":0.39,"v":0.06},
{"d":"2020-02-01","o":0.35,"h":0.4,"l":0.25,"c":0.32,"m":0.35,"a":0.38,"v":0.06},
{"d":"2020-02-15","o":0.32,"h":0.4,"l":0.25,"c":0.3,"m":0.33,"a":0.37,"v":0.05},
{"d":"2020-03-01","o":0.3,"h":0.38,"l":0.18,"c":0.25,"m":0.3,"a":0.36,"v":0.08},
{"d":"2020-03-15","o":0.25,"h":0.35,"l":0.15,"c":0.2,"m":0.27,"a":0.35,"v":0.1},
{"d":"2020-04-01","o":0.2,"h":0.35,"l":0.18,"c":0.3,"m":0.27,"a":0.34,"v":0.08},
{"d":"2020-04-15","o":0.3,"h":0.42,"l":0.25,"c":0.38,"m":0.3,"a":0.34,"v":0.1},
{"d":"2020-05-01","o":0.38,"h":0.45,"l":0.28,"c":0.35,"m":0.33,"a":0.34,"v":0.08},
{"d":"2020-05-15","o":0.35,"h":0.45,"l":0.3,"c":0.4,"m":0.36,"a":0.35,"v":0.1},
{"d":"2020-06-01","o":0.4,"h":0.5,"l":0.3,"c":0.38,"m":0.38,"a":0.36,"v":0.12},
{"d":"2020-06-15","o":0.38,"h":0.5,"l":0.33,"c":0.42,"m":0.39,"a":0.37,"v":0.12},
{"d":"2020-07-01","o":0.42,"h":0.65,"l":0.33,"c":0.45,"m":0.41,"a":0.38,"v":0.66},
{"d":"2020-07-15","o":0.45,"h":0.52,"l":0.35,"c":0.42,"m":0.42,"a":0.39,"v":0.15},
{"d":"2020-08-01","o":0.42,"h":0.5,"l":0.35,"c":0.45,"m":0.42,"a":0.4,"v":0.1},
{"d":"2020-08-15","o":0.45,"h":0.5,"l":0.35,"c":0.4,"m":0.42,"a":0.41,"v":0.12},
{"d":"2020-09-01","o":0.4,"h":0.5,"l":0.35,"c":0.42,"m":0.41,"a":0.41,"v":0.1},
{"d":"2020-09-15","o":0.42,"h":0.5,"l":0.35,"c":0.4,"m":0.41,"a":0.42,"v":0.1},
{"d":"2020-10-01","o":0.4,"h":0.48,"l":0.33,"c":0.38,"m":0.4,"a":0.42,"v":0.1},
{"d":"2020-10-15","o":0.38,"h":0.48,"l":0.33,"c":0.4,"m":0.4,"a":0.42,"v":0.1},
{"d":"2020-11-01","o":0.4,"h":0.48,"l":0.33,"c":0.38,"m":0.4,"a":0.42,"v":0.12},
{"d":"2020-11-15","o":0.38,"h":0.5,"l":0.33,"c":0.42,"m":0.41,"a":0.42,"v":0.15},
{"d":"2020-12-01","o":0.42,"h":0.5,"l":0.35,"c":0.4,"m":0.42,"a":0.42,"v":0.15},
{"d":"2020-12-15","o":0.4,"h":0.5,"l":0.35,"c":0.45,"m":0.43,"a":0.43,"v":0.2},
{"d":"2021-01-01","o":0.45,"h":0.5,"l":0.38,"c":0.42,"m":0.44,"a":0.44,"v":0.2},
{"d":"2021-01-15","o":0.42,"h":0.55,"l":0.38,"c":0.5,"m":0.46,"a":0.46,"v":0.3},
{"d":"2021-02-01","o":0.5,"h":0.7,"l":0.45,"c":0.65,"m":0.52,"a":0.48,"v":0.5},
{"d":"2021-02-15","o":0.65,"h":1.0,"l":0.6,"c":0.8,"m":0.62,"a":0.51,"v":1.4},
{"d":"2021-03-01","o":0.8,"h":0.9,"l":0.65,"c":0.75,"m":0.7,"a":0.55,"v":0.3},
{"d":"2021-03-15","o":0.75,"h":0.85,"l":0.6,"c":0.7,"m":0.74,"a":0.6,"v":0.25},
{"d":"2021-04-01","o":0.7,"h":0.82,"l":0.62,"c":0.75,"m":0.76,"a":0.65,"v":0.2},
{"d":"2021-04-15","o":0.75,"h":0.8,"l":0.62,"c":0.72,"m":0.77,"a":0.69,"v":0.2},
{"d":"2021-05-01","o":0.72,"h":0.82,"l":0.65,"c":0.78,"m":0.77,"a":0.72,"v":0.25},
{"d":"2021-05-15","o":0.78,"h":0.82,"l":0.65,"c":0.72,"m":0.76,"a":0.73,"v":0.2},
{"d":"2021-06-01","o":0.72,"h":0.8,"l":0.6,"c":0.68,"m":0.72,"a":0.72,"v":0.2},
{"d":"2021-06-15","o":0.68,"h":0.75,"l":0.55,"c":0.6,"m":0.67,"a":0.7,"v":0.25},
{"d":"2021-07-01","o":0.6,"h":0.68,"l":0.5,"c":0.55,"m":0.62,"a":0.67,"v":0.2},
{"d":"2021-07-15","o":0.55,"h":0.62,"l":0.45,"c":0.5,"m":0.57,"a":0.65,"v":0.3},
{"d":"2021-08-01","o":0.5,"h":0.6,"l":0.45,"c":0.55,"m":0.56,"a":0.63,"v":0.6},
{"d":"2021-08-15","o":0.55,"h":0.65,"l":0.5,"c":0.6,"m":0.57,"a":0.62,"v":1.0},
{"d":"2021-09-01","o":0.6,"h":0.68,"l":0.5,"c":0.58,"m":0.58,"a":0.61,"v":0.3},
{"d":"2021-09-15","o":0.58,"h":0.65,"l":0.48,"c":0.55,"m":0.59,"a":0.6,"v":0.2},
{"d":"2021-10-01","o":0.55,"h":0.65,"l":0.48,"c":0.6,"m":0.59,"a":0.59,"v":0.5},
{"d":"2021-10-15","o":0.6,"h":0.65,"l":0.5,"c":0.58,"m":0.58,"a":0.58,"v":0.25},
{"d":"2021-11-01","o":0.58,"h":0.65,"l":0.5,"c":0.6,"m":0.58,"a":0.57,"v":0.7},
{"d":"2021-11-15","o":0.6,"h":0.65,"l":0.5,"c":0.55,"m":0.57,"a":0.56,"v":1.7},
{"d":"2021-12-01","o":0.55,"h":0.62,"l":0.47,"c":0.56,"m":0.56,"a":0.55,"v":0.3},
{"d":"2021-12-15","o":0.56,"h":0.62,"l":0.47,"c":0.52,"m":0.55,"a":0.54,"v":0.25},
{"d":"2022-01-01","o":0.52,"h":0.6,"l":0.45,"c":0.55,"m":0.55,"a":0.53,"v":0.3},
{"d":"2022-01-15","o":0.55,"h":0.6,"l":0.45,"c":0.5,"m":0.54,"a":0.52,"v":0.25},
{"d":"2022-02-01","o":0.5,"h":0.58,"l":0.42,"c":0.52,"m":0.53,"a":0.51,"v":0.3},
{"d":"2022-02-15","o":0.52,"h":0.58,"l":0.42,"c":0.48,"m":0.52,"a":0.51,"v":0.25},
{"d":"2022-03-01","o":0.48,"h":0.55,"l":0.4,"c":0.5,"m":0.5,"a":0.5,"v":0.3},
{"d":"2022-03-15","o":0.5,"h":0.55,"l":0.4,"c":0.46,"m":0.49,"a":0.49,"v":0.36},
{"d":"2022-04-01","o":0.46,"h":0.52,"l":0.38,"c":0.45,"m":0.48,"a":0.48,"v":0.3},
{"d":"2022-04-15","o":0.45,"h":0.52,"l":0.38,"c":0.45,"m":0.46,"a":0.46,"v":3.1},
{"d":"2022-05-01","o":0.45,"h":0.5,"l":0.36,"c":0.42,"m":0.43,"a":0.44,"v":0.3},
{"d":"2022-05-15","o":0.42,"h":0.48,"l":0.35,"c":0.43,"m":0.4,"a":0.43,"v":0.5},
{"d":"2022-06-01","o":0.43,"h":0.45,"l":0.3,"c":0.35,"m":0.37,"a":0.41,"v":0.3},
{"d":"2022-06-15","o":0.35,"h":0.42,"l":0.28,"c":0.32,"m":0.34,"a":0.39,"v":0.25},
{"d":"2022-07-01","o":0.32,"h":0.4,"l":0.26,"c":0.3,"m":0.32,"a":0.37,"v":0.3},
{"d":"2022-07-15","o":0.3,"h":0.38,"l":0.24,"c":0.31,"m":0.3,"a":0.35,"v":0.4},
{"d":"2022-08-01","o":0.31,"h":0.36,"l":0.22,"c":0.27,"m":0.29,"a":0.33,"v":0.3},
{"d":"2022-08-15","o":0.27,"h":0.35,"l":0.2,"c":0.28,"m":0.27,"a":0.31,"v":0.45},
{"d":"2022-09-01","o":0.28,"h":0.33,"l":0.18,"c":0.23,"m":0.26,"a":0.3,"v":0.3},
{"d":"2022-09-15","o":0.23,"h":0.32,"l":0.17,"c":0.22,"m":0.25,"a":0.29,"v":0.35},
{"d":"2022-10-01","o":0.22,"h":0.3,"l":0.16,"c":0.23,"m":0.24,"a":0.28,"v":0.4},
{"d":"2022-10-15","o":0.23,"h":0.3,"l":0.16,"c":0.21,"m":0.23,"a":0.28,"v":0.3},
{"d":"2022-11-01","o":0.21,"h":0.3,"l":0.15,"c":0.2,"m":0.23,"a":0.28,"v":0.4},
{"d":"2022-11-15","o":0.2,"h":0.3,"l":0.15,"c":0.22,"m":0.23,"a":0.28,"v":2.2},
{"d":"2022-12-01","o":0.22,"h":0.3,"l":0.15,"c":0.21,"m":0.23,"a":0.28,"v":0.6},
{"d":"2022-12-15","o":0.21,"h":0.3,"l":0.15,"c":0.2,"m":0.24,"a":0.28,"v":0.9},
{"d":"2023-01-01","o":0.2,"h":0.35,"l":0.18,"c":0.3,"m":0.26,"a":0.29,"v":0.4},
{"d":"2023-01-15","o":0.3,"h":0.49,"l":0.25,"c":0.38,"m":0.32,"a":0.29,"v":0.5},
{"d":"2023-02-01","o":0.38,"h":0.45,"l":0.28,"c":0.35,"m":0.36,"a":0.3,"v":5.1},
{"d":"2023-02-15","o":0.35,"h":0.4,"l":0.25,"c":0.37,"m":0.35,"a":0.3,"v":12.6},
{"d":"2023-03-01","o":0.37,"h":0.37,"l":0.22,"c":0.25,"m":0.3,"a":0.29,"v":0.5},
{"d":"2023-03-15","o":0.22,"h":0.3,"l":0.18,"c":0.22,"m":0.25,"a":0.27,"v":0.7},
{"d":"2023-04-01","o":0.22,"h":0.26,"l":0.15,"c":0.2,"m":0.21,"a":0.25,"v":0.3},
{"d":"2023-04-15","o":0.2,"h":0.24,"l":0.14,"c":0.18,"m":0.18,"a":0.23,"v":0.4},
{"d":"2023-05-01","o":0.18,"h":0.22,"l":0.13,"c":0.17,"m":0.16,"a":0.21,"v":0.3},
{"d":"2023-05-15","o":0.17,"h":0.21,"l":0.12,"c":0.16,"m":0.155,"a":0.2,"v":0.4},
{"d":"2023-06-01","o":0.16,"h":0.2,"l":0.12,"c":0.15,"m":0.15,"a":0.19,"v":0.3},
{"d":"2023-06-15","o":0.15,"h":0.2,"l":0.12,"c":0.16,"m":0.15,"a":0.18,"v":0.45},
{"d":"2023-07-01","o":0.16,"h":0.2,"l":0.12,"c":0.15,"m":0.155,"a":0.175,"v":0.3},
{"d":"2023-07-15","o":0.15,"h":0.2,"l":0.12,"c":0.16,"m":0.16,"a":0.17,"v":0.5},
{"d":"2023-08-01","o":0.16,"h":0.22,"l":0.13,"c":0.16,"m":0.165,"a":0.17,"v":0.55},
{"d":"2023-08-15","o":0.16,"h":0.22,"l":0.13,"c":0.17,"m":0.17,"a":0.17,"v":0.4},
{"d":"2023-09-01","o":0.17,"h":0.22,"l":0.13,"c":0.16,"m":0.17,"a":0.175,"v":0.3},
{"d":"2023-09-15","o":0.16,"h":0.23,"l":0.14,"c":0.15,"m":0.175,"a":0.18,"v":1.6},
{"d":"2023-10-01","o":0.15,"h":0.24,"l":0.14,"c":0.19,"m":0.18,"a":0.185,"v":0.6},
{"d":"2023-10-15","o":0.19,"h":0.25,"l":0.15,"c":0.18,"m":0.19,"a":0.19,"v":0.7},
{"d":"2023-11-01","o":0.18,"h":0.26,"l":0.16,"c":0.21,"m":0.2,"a":0.195,"v":0.4},
{"d":"2023-11-15","o":0.21,"h":0.27,"l":0.16,"c":0.22,"m":0.21,"a":0.2,"v":0.5},
{"d":"2023-12-01","o":0.22,"h":0.27,"l":0.17,"c":0.21,"m":0.215,"a":0.205,"v":0.3},
{"d":"2023-12-15","o":0.21,"h":0.27,"l":0.17,"c":0.22,"m":0.22,"a":0.21,"v":0.4},
{"d":"2024-01-01","o":0.22,"h":0.27,"l":0.17,"c":0.2,"m":0.22,"a":0.215,"v":0.3},
{"d":"2024-01-15","o":0.2,"h":0.26,"l":0.16,"c":0.21,"m":0.215,"a":0.22,"v":0.4},
{"d":"2024-02-01","o":0.21,"h":0.26,"l":0.16,"c":0.2,"m":0.21,"a":0.22,"v":0.5},
{"d":"2024-02-15","o":0.2,"h":0.26,"l":0.16,"c":0.22,"m":0.21,"a":0.22,"v":0.3},
{"d":"2024-03-01","o":0.22,"h":0.28,"l":0.17,"c":0.21,"m":0.215,"a":0.22,"v":1.2},
{"d":"2024-03-15","o":0.21,"h":0.27,"l":0.17,"c":0.2,"m":0.215,"a":0.22,"v":0.4},
{"d":"2024-04-01","o":0.2,"h":0.25,"l":0.18,"c":0.21,"m":0.21,"a":0.22,"v":0.5},
{"d":"2024-04-15","o":0.195,"h":0.2,"l":0.19,"c":0.195,"m":0.205,"a":0.22,"v":0.32}
]},
"vconcat":[
{"width":827,"height":30,
 "data":{"values":[{"line":1,"t":"Historic Chart for Cdn:RPX by Stockwatch.com 604.687.1500 - (c) 2024"},{"line":2,"t":"Thu Apr 18 2024 \u00a0Op=0.195 \u00a0Hi=0.20 \u00a0Lo=0.19 \u00a0Cl=0.195 \u00a0Vol=319,737 \u00a0Year hi=8.50 \u00a0lo=0.12"}]},
 "mark":{"type":"text","align":"left","baseline":"middle","fontSize":13.3,"dx":2},
 "encoding":{
  "x":{"datum":0,"type":"quantitative","scale":{"domain":[0,1]},"axis":null},
  "y":{"field":"line","type":"ordinal","scale":{"type":"point","padding":0.5},"axis":null},
  "text":{"field":"t"}}},
{"width":780,"height":370,
 "resolve":{"axis":{"y":"independent"}},
 "layer":[
  {"data":{"name":"p"},
   "mark":{"type":"rule","color":"black","strokeWidth":1.8},
   "encoding":{
    "x":{"field":"d","type":"temporal","scale":{"type":"utc","domain":[{"year":2009,"month":4,"date":18,"utc":true},{"year":2024,"month":5,"date":4,"utc":true}]},
     "axis":{"grid":true,"labels":false,"ticks":false,"domain":false,"title":null,"values":[{"year":2010,"month":1,"date":1,"utc":true},{"year":2011,"month":1,"date":1,"utc":true},{"year":2012,"month":1,"date":1,"utc":true},{"year":2013,"month":1,"date":1,"utc":true},{"year":2014,"month":1,"date":1,"utc":true},{"year":2015,"month":1,"date":1,"utc":true},{"year":2016,"month":1,"date":1,"utc":true},{"year":2017,"month":1,"date":1,"utc":true},{"year":2018,"month":1,"date":1,"utc":true},{"year":2019,"month":1,"date":1,"utc":true},{"year":2020,"month":1,"date":1,"utc":true},{"year":2021,"month":1,"date":1,"utc":true},{"year":2022,"month":1,"date":1,"utc":true},{"year":2023,"month":1,"date":1,"utc":true},{"year":2024,"month":1,"date":1,"utc":true}]}},
    "y":{"field":"l","type":"quantitative","scale":{"domain":[-0.01,9.98],"nice":false,"zero":false},
     "axis":{"orient":"right","values":[0.5,1,1.5,2,2.5,3,3.5,4,4.5,5,5.5,6,6.5,7,7.5,8,8.5,9,9.5],"format":".2f","grid":true,"title":null,"labelPadding":3,"labelOverlap":false,"labelBound":false,"labelFontSize":13}},
    "y2":{"field":"h"}}},
  {"data":{"name":"p"},
   "mark":{"type":"tick","orient":"horizontal","color":"#ff0000","size":2.5,"thickness":1.5,"xOffset":-1},
   "encoding":{"x":{"field":"d","type":"temporal"},"y":{"field":"o","type":"quantitative","axis":null}}},
  {"data":{"name":"p"},
   "mark":{"type":"tick","orient":"horizontal","color":"#ff0000","size":2.5,"thickness":1.5,"xOffset":1},
   "encoding":{"x":{"field":"d","type":"temporal"},"y":{"field":"c","type":"quantitative","axis":null}}},
  {"data":{"name":"p"},
   "mark":{"type":"line","color":"#ff00ff","strokeWidth":1.5},
   "encoding":{"x":{"field":"d","type":"temporal"},"y":{"field":"m","type":"quantitative","axis":null}}},
  {"data":{"name":"p"},
   "mark":{"type":"line","color":"#0000ff","strokeWidth":1.2},
   "encoding":{"x":{"field":"d","type":"temporal"},"y":{"field":"a","type":"quantitative","axis":null}}},
  {"data":{"values":[{"t":"Cdn:RPX"}]},
   "mark":{"type":"text","align":"left","baseline":"middle","fontSize":13},
   "encoding":{"x":{"datum":{"year":2009,"month":6,"date":1,"utc":true},"type":"temporal"},"y":{"datum":9.68,"type":"quantitative","axis":null},"text":{"field":"t"}}}
 ]},
{"width":780,"height":108,
 "resolve":{"axis":{"y":"independent"}},
 "layer":[
  {"data":{"name":"p"},
   "mark":{"type":"bar","width":1.6},
   "encoding":{
    "x":{"field":"d","type":"temporal","scale":{"type":"utc","domain":[{"year":2009,"month":4,"date":18,"utc":true},{"year":2024,"month":5,"date":4,"utc":true}]},
     "axis":{"grid":true,"labels":false,"ticks":false,"domain":false,"title":null,"values":[{"year":2010,"month":1,"date":1,"utc":true},{"year":2011,"month":1,"date":1,"utc":true},{"year":2012,"month":1,"date":1,"utc":true},{"year":2013,"month":1,"date":1,"utc":true},{"year":2014,"month":1,"date":1,"utc":true},{"year":2015,"month":1,"date":1,"utc":true},{"year":2016,"month":1,"date":1,"utc":true},{"year":2017,"month":1,"date":1,"utc":true},{"year":2018,"month":1,"date":1,"utc":true},{"year":2019,"month":1,"date":1,"utc":true},{"year":2020,"month":1,"date":1,"utc":true},{"year":2021,"month":1,"date":1,"utc":true},{"year":2022,"month":1,"date":1,"utc":true},{"year":2023,"month":1,"date":1,"utc":true},{"year":2024,"month":1,"date":1,"utc":true}]}},
    "y":{"field":"v","type":"quantitative","scale":{"domain":[-0.42,16.2],"nice":false,"zero":false},
     "axis":{"orient":"right","values":[4,8,12],"labelExpr":"format(datum.value,'.1f') + ' M'","grid":true,"title":null,"labelPadding":3,"labelOverlap":false}},
    "y2":{"datum":-0.42},
    "color":{"condition":[{"test":"datum.c > datum.o","value":"#44b844"},{"test":"datum.c < datum.o","value":"#ff0000"}],"value":"#a8a8a8"}}},
  {"data":{"values":[{"t":"Volume"}]},
   "mark":{"type":"text","align":"left","baseline":"middle","fontSize":13},
   "encoding":{"x":{"datum":{"year":2009,"month":6,"date":1,"utc":true},"type":"temporal"},"y":{"datum":14.5,"type":"quantitative","axis":null},"text":{"field":"t"}}}
 ]},
{"width":780,"height":18,
 "data":{"name":"yb"},
 "mark":{"type":"rule","color":"black","strokeWidth":1},
 "encoding":{"x":{"field":"d","type":"temporal","scale":{"type":"utc","domain":[{"year":2009,"month":4,"date":18,"utc":true},{"year":2024,"month":5,"date":4,"utc":true}]},"axis":null}}},
{"width":780,"height":14,
 "layer":[
  {"data":{"name":"yb"},"mark":{"type":"rule","color":"black","strokeWidth":1},
   "encoding":{"x":{"field":"d","type":"temporal","scale":{"type":"utc","domain":[{"year":2009,"month":4,"date":18,"utc":true},{"year":2024,"month":5,"date":4,"utc":true}]},"axis":null}}},
  {"data":{"name":"yb"},"transform":[{"filter":"datum.t != '2024'"}],
   "mark":{"type":"text","dx":24,"dy":1,"fontSize":13.5,"baseline":"middle","align":"center"},
   "encoding":{"x":{"field":"d","type":"temporal"},"text":{"field":"t"}}},
  {"data":{"values":[{"t":"2009"}]},
   "mark":{"type":"text","dy":1,"fontSize":13.5,"baseline":"middle","align":"center"},
   "encoding":{"x":{"datum":{"year":2009,"month":8,"date":1,"utc":true},"type":"temporal"},"text":{"field":"t"}}},
  {"data":{"values":[{"t":"2024"}]},
   "mark":{"type":"text","dy":1,"fontSize":13.5,"baseline":"middle","align":"center"},
   "encoding":{"x":{"datum":{"year":2024,"month":2,"date":20,"utc":true},"type":"temporal"},"text":{"field":"t"}}}
 ]}
]
}
